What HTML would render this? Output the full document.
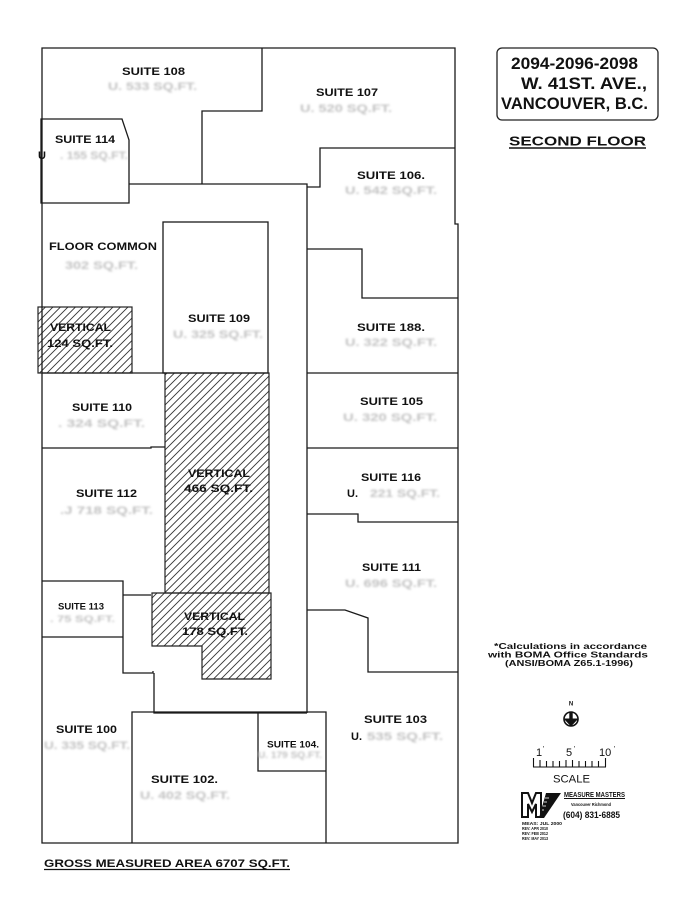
<!DOCTYPE html>
<html>
<head>
<meta charset="utf-8">
<style>
  html,body{margin:0;padding:0;background:#fff;}
  body{width:700px;height:900px;overflow:hidden;}
  svg{display:block;}
  .lbl{font-family:"Liberation Sans",Arial,sans-serif;font-weight:bold;fill:#111;}
  .reg{font-family:"Liberation Sans",Arial,sans-serif;fill:#111;}
  .gry{font-family:"Liberation Sans",Arial,sans-serif;font-weight:bold;fill:#c2c2c2;}
</style>
</head>
<body>
<svg width="700" height="900" viewBox="0 0 700 900" xmlns="http://www.w3.org/2000/svg">
  <defs>
    <pattern id="hatch" patternUnits="userSpaceOnUse" width="7.5" height="7.5">
      <path d="M0,7.5 L7.5,0 M-1,1 L1,-1 M6.5,8.5 L8.5,6.5" stroke="#333" stroke-width="0.9"/>
    </pattern>
    <filter id="blr" x="-10%" y="-30%" width="120%" height="160%">
      <feGaussianBlur stdDeviation="1.0"/>
    </filter>
  </defs>

  <rect x="0" y="0" width="700" height="900" fill="#fff"/>

  <!-- hatched areas -->
  <rect x="38" y="307" width="94" height="66" fill="url(#hatch)" stroke="#222" stroke-width="1.2"/>
  <rect x="165" y="373" width="104" height="220" fill="url(#hatch)" stroke="#222" stroke-width="1.2"/>
  <polygon points="152,593 271,593 271,679 202,679 202,646 152,646" fill="url(#hatch)" stroke="#222" stroke-width="1.2"/>

  <g fill="none" stroke="#1a1a1a" stroke-width="1.3">
    <path d="M42,48 H455 V224 H458 V843 H42 Z"/>
    <path d="M262,48 V111 H202 V184"/>
    <path d="M41,119 H122 L129,140 V203 H41 Z"/>
    <path d="M129,184 H307 V713"/>
    <path d="M455,148 H320 V187 H307"/>
    <path d="M307,249 H362 V298 H458"/>
    <path d="M307,373 H458"/>
    <rect x="163" y="222" width="105" height="151"/>
    <path d="M42,373 H165"/>
    <path d="M42,448 H151 V447 H165"/>
    <path d="M42,581 H123 V673 H153 V671 M154,673 V713 H307"/>
    <path d="M123,595 H151"/>
    <path d="M42,637 H123"/>
    <path d="M132,843 V712 H326 V843"/>
    <path d="M258,712 V771 H326"/>
    <path d="M307,448 H458"/>
    <path d="M307,514 H358 V522 H458"/>
    <path d="M307,610 H345 L368,618 V672 H458"/>
  </g>

  <!-- suite labels -->
  <g class="lbl" font-size="11">
    <text x="122" y="75" textLength="63" lengthAdjust="spacingAndGlyphs">SUITE 108</text>
    <text x="316" y="96" textLength="62" lengthAdjust="spacingAndGlyphs">SUITE 107</text>
    <text x="55" y="143" textLength="60" lengthAdjust="spacingAndGlyphs">SUITE 114</text>
    <text x="38" y="159">U</text>
    <text x="357" y="179" textLength="68" lengthAdjust="spacingAndGlyphs">SUITE 106.</text>
    <text x="49" y="250" textLength="108" lengthAdjust="spacingAndGlyphs">FLOOR COMMON</text>
    <text x="188" y="322" textLength="62" lengthAdjust="spacingAndGlyphs">SUITE 109</text>
    <text x="357" y="331" textLength="68" lengthAdjust="spacingAndGlyphs">SUITE 188.</text>
    <text x="50" y="331" textLength="61" lengthAdjust="spacingAndGlyphs">VERTICAL</text>
    <text x="47" y="347" textLength="66" lengthAdjust="spacingAndGlyphs">124 SQ.FT.</text>
    <text x="72" y="411" textLength="60" lengthAdjust="spacingAndGlyphs">SUITE 110</text>
    <text x="76" y="497" textLength="61" lengthAdjust="spacingAndGlyphs">SUITE 112</text>
    <text x="188" y="477" textLength="62" lengthAdjust="spacingAndGlyphs">VERTICAL</text>
    <text x="184" y="492" textLength="69" lengthAdjust="spacingAndGlyphs">466 SQ.FT.</text>
    <text x="184" y="620" textLength="61" lengthAdjust="spacingAndGlyphs">VERTICAL</text>
    <text x="182" y="635" textLength="66" lengthAdjust="spacingAndGlyphs">178 SQ.FT.</text>
    <text x="360" y="405" textLength="63" lengthAdjust="spacingAndGlyphs">SUITE 105</text>
    <text x="361" y="481" textLength="60" lengthAdjust="spacingAndGlyphs">SUITE 116</text>
    <text x="347" y="497">U.</text>
    <text x="362" y="571" textLength="59" lengthAdjust="spacingAndGlyphs">SUITE 111</text>
    <text x="56" y="733" textLength="61" lengthAdjust="spacingAndGlyphs">SUITE 100</text>
    <text x="151" y="783" textLength="67" lengthAdjust="spacingAndGlyphs">SUITE 102.</text>
    <text x="364" y="723" textLength="63" lengthAdjust="spacingAndGlyphs">SUITE 103</text>
    <text x="351" y="740">U.</text>
  </g>
  <g class="lbl" font-size="9">
    <text x="58" y="609.5" textLength="46" lengthAdjust="spacingAndGlyphs">SUITE 113</text>
    <text x="267" y="747.5" textLength="52" lengthAdjust="spacingAndGlyphs">SUITE 104.</text>
  </g>

  <!-- blurred area text -->
  <g class="gry" font-size="11" filter="url(#blr)">
    <text x="108" y="90" textLength="89" lengthAdjust="spacingAndGlyphs">U. 533 SQ.FT.</text>
    <text x="300" y="112" textLength="92" lengthAdjust="spacingAndGlyphs">U. 520 SQ.FT.</text>
    <text x="60" y="159" textLength="68" lengthAdjust="spacingAndGlyphs">. 155 SQ.FT.</text>
    <text x="345" y="194" textLength="92" lengthAdjust="spacingAndGlyphs">U. 542 SQ.FT.</text>
    <text x="65" y="269" textLength="73" lengthAdjust="spacingAndGlyphs">302 SQ.FT.</text>
    <text x="173" y="338" textLength="90" lengthAdjust="spacingAndGlyphs">U. 325 SQ.FT.</text>
    <text x="345" y="346" textLength="92" lengthAdjust="spacingAndGlyphs">U. 322 SQ.FT.</text>
    <text x="58" y="427" textLength="87" lengthAdjust="spacingAndGlyphs">. 324 SQ.FT.</text>
    <text x="60" y="514" textLength="93" lengthAdjust="spacingAndGlyphs">.J 718 SQ.FT.</text>
    <text x="343" y="421" textLength="94" lengthAdjust="spacingAndGlyphs">U. 320 SQ.FT.</text>
    <text x="370" y="497" textLength="70" lengthAdjust="spacingAndGlyphs">221 SQ.FT.</text>
    <text x="345" y="587" textLength="92" lengthAdjust="spacingAndGlyphs">U. 696 SQ.FT.</text>
    <text x="44" y="749" textLength="86" lengthAdjust="spacingAndGlyphs">U. 335 SQ.FT.</text>
    <text x="140" y="799" textLength="90" lengthAdjust="spacingAndGlyphs">U. 402 SQ.FT.</text>
    <text x="367" y="740" textLength="76" lengthAdjust="spacingAndGlyphs">535 SQ.FT.</text>
  </g>
  <g class="gry" font-size="9" filter="url(#blr)">
    <text x="50" y="622" textLength="65" lengthAdjust="spacingAndGlyphs">. 75 SQ.FT.</text>
    <text x="258" y="758" textLength="64" lengthAdjust="spacingAndGlyphs">U. 179 SQ.FT.</text>
  </g>

  <!-- title box -->
  <rect x="497" y="48" width="161" height="72" rx="5" ry="5" fill="none" stroke="#222" stroke-width="1.3"/>
  <g class="lbl" font-size="16.5">
    <text x="511" y="69" textLength="127" lengthAdjust="spacingAndGlyphs">2094-2096-2098</text>
    <text x="521" y="89" textLength="126" lengthAdjust="spacingAndGlyphs">W. 41ST. AVE.,</text>
    <text x="501" y="109" textLength="147" lengthAdjust="spacingAndGlyphs">VANCOUVER, B.C.</text>
  </g>
  <text class="lbl" x="509" y="145.5" font-size="13" textLength="137" lengthAdjust="spacingAndGlyphs">SECOND FLOOR</text>
  <line x1="509" y1="148" x2="646" y2="148" stroke="#111" stroke-width="1.5"/>

  <!-- notes -->
  <g class="lbl" font-size="8">
    <text x="494" y="649" textLength="153" lengthAdjust="spacingAndGlyphs">*Calculations in accordance</text>
    <text x="488" y="657.5" textLength="160" lengthAdjust="spacingAndGlyphs">with BOMA Office Standards</text>
    <text x="505" y="666" textLength="128" lengthAdjust="spacingAndGlyphs">(ANSI/BOMA Z65.1-1996)</text>
  </g>

  <!-- north arrow -->
  <text class="lbl" x="571" y="705.5" font-size="6" text-anchor="middle">N</text>
  <circle cx="571" cy="719" r="7" fill="#fff" stroke="#111" stroke-width="1.6"/>
  <rect x="569.3" y="712" width="3.4" height="8" fill="#111"/>
  <polygon points="563.5,718.5 578.5,718.5 571,726.5" fill="#111"/>

  <!-- scale -->
  <g class="reg" font-size="11">
    <text x="536" y="756">1</text>
    <text x="543" y="751" font-size="7">'</text>
    <text x="566" y="756">5</text>
    <text x="574" y="751" font-size="7">'</text>
    <text x="599" y="756">10</text>
    <text x="614" y="751" font-size="7">'</text>
    <text x="553" y="782.5" textLength="37" lengthAdjust="spacingAndGlyphs">SCALE</text>
  </g>
  <g stroke="#111" stroke-width="1.1">
    <line x1="533" y1="767" x2="606" y2="767"/>
    <line x1="533.5" y1="767" x2="533.5" y2="758"/>
    <line x1="540" y1="767" x2="540" y2="760"/>
    <line x1="546.5" y1="767" x2="546.5" y2="761"/>
    <line x1="553" y1="767" x2="553" y2="761"/>
    <line x1="559.5" y1="767" x2="559.5" y2="761"/>
    <line x1="566" y1="767" x2="566" y2="760"/>
    <line x1="572.5" y1="767" x2="572.5" y2="760"/>
    <line x1="579" y1="767" x2="579" y2="761"/>
    <line x1="585.5" y1="767" x2="585.5" y2="761"/>
    <line x1="592" y1="767" x2="592" y2="761"/>
    <line x1="598.5" y1="767" x2="598.5" y2="761"/>
    <line x1="605.5" y1="767" x2="605.5" y2="758"/>
  </g>

  <!-- logo -->
  <path d="M522,793 H528 L532,803 L536,793 H541 V817 H536 V804 L532,812 L528,804 V817 H522 Z" fill="#fff" stroke="#111" stroke-width="2"/>
  <polygon points="546,793 561,793 544,818 539,818" fill="#111"/>
  <g stroke="#fff" stroke-width="0.8">
    <line x1="545" y1="798" x2="549" y2="798"/>
    <line x1="544" y1="802" x2="547" y2="802"/>
    <line x1="543" y1="806" x2="546" y2="806"/>
    <line x1="542" y1="810" x2="544" y2="810"/>
  </g>
  <text class="lbl" x="564" y="797" font-size="7" textLength="61" lengthAdjust="spacingAndGlyphs">MEASURE MASTERS</text>
  <line x1="564" y1="798.5" x2="625" y2="798.5" stroke="#111" stroke-width="0.9"/>
  <text class="lbl" x="571" y="806" font-size="4.5" textLength="40" lengthAdjust="spacingAndGlyphs">Vancouver Richmond</text>
  <text class="lbl" x="563" y="818" font-size="9" textLength="57" lengthAdjust="spacingAndGlyphs">(604) 831-6885</text>
  <g class="lbl" font-size="4.5">
    <text x="522" y="825" textLength="40" lengthAdjust="spacingAndGlyphs">MEAS: JUL 2000</text>
    <text x="522" y="830" textLength="26" lengthAdjust="spacingAndGlyphs">REV: APR 2010</text>
    <text x="522" y="835" textLength="26" lengthAdjust="spacingAndGlyphs">REV: FEB 2012</text>
    <text x="522" y="840" textLength="26" lengthAdjust="spacingAndGlyphs">REV: MAY 2013</text>
  </g>

  <!-- gross area -->
  <text class="lbl" x="44" y="867" font-size="11" textLength="246" lengthAdjust="spacingAndGlyphs">GROSS MEASURED AREA 6707 SQ.FT.</text>
  <line x1="44" y1="869.5" x2="290" y2="869.5" stroke="#111" stroke-width="1.2"/>
</svg>
</body>
</html>
